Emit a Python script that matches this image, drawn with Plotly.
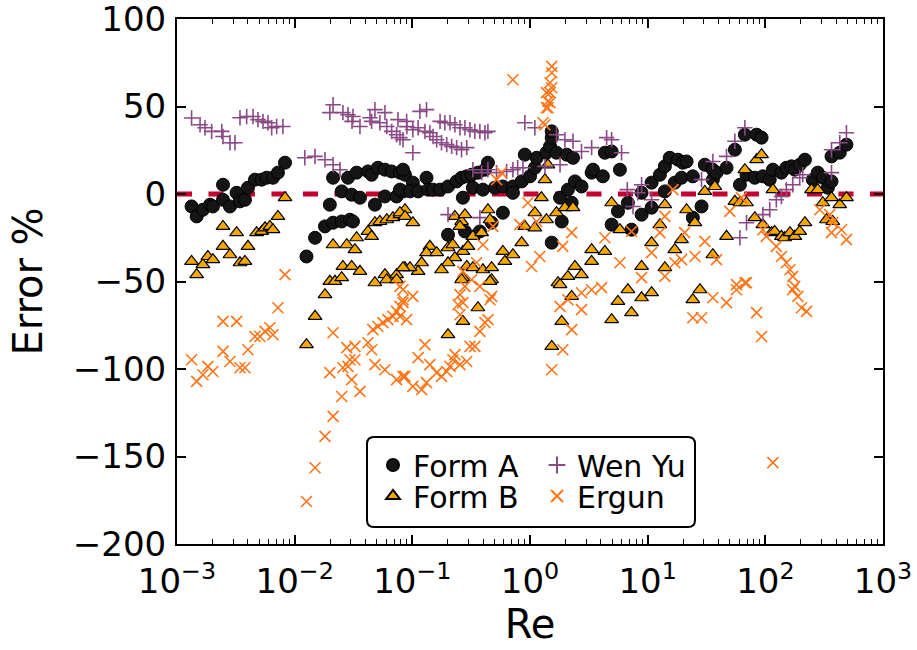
import plotly.graph_objects as go

# ---------------- data (Re, error %) ----------------
re_a = [1.33e-3, 1.47e-3, 1.66e-3, 1.91e-3, 2.02e-3, 2.46e-3, 2.82e-3, 2.46e-3, 3.21e-3, 3.43e-3, 3.78e-3, 4.01e-3, 4.60e-3, 5.24e-3, 5.78e-3, 6.54e-3, 7.21e-3, 8.28e-3,
        0.0126, 0.0149, 0.0181, 0.0212, 0.0251, 0.0295, 0.0313, 0.0199, 0.0251, 0.0305, 0.0359, 0.0481, 0.0585, 0.0735, 0.0833, 0.0212, 0.0284, 0.0336, 0.0420, 0.0451, 0.0510, 0.0585, 0.0667, 0.0785, 0.0866,
        0.0833, 0.0785, 0.101, 0.0955, 0.112, 0.132, 0.136, 0.150, 0.172, 0.201, 0.238, 0.262, 0.290, 0.319, 0.361, 0.414, 0.439, 0.269, 0.327, 0.398, 0.503, 0.588, 0.716, 0.716, 0.850, 1.00, 1.10, 1.14, 0.904, 1.38, 1.48, 1.53, 1.53, 1.68, 2.05, 2.32,
        0.201, 0.280, 0.375, 0.472, 0.588, 1.53, 1.80, 2.10, 2.41, 2.74, 2.26, 1.86, 3.34, 3.43, 4.16, 4.33, 4.94, 5.81, 4.94, 5.59, 6.79, 7.29,
        8.88, 8.88, 10.8, 10.8, 12.7, 14.0, 14.0, 15.4, 17.0, 18.1, 19.4, 19.9, 21.4, 24.2, 24.2, 28.7, 30.6, 35.8, 35.8, 38.5, 46.8, 55.1, 60.8, 67.0, 69.2, 81.4, 84.3, 92.9, 95.3, 109, 116, 137, 151, 167, 178, 196, 217, 253, 279, 308, 340, 365, 365, 429, 489]
err_a = [-7.1, -12.8, -9.0, -6.1, -7.1, -3.3, -7.1, 5.3, 0.7, -4.2, -3.3, 3.6, 8.2, 8.2, 9.3, 9.3, 12.2, 17.9,
         -35.7, -25.0, -18.5, -16.4, -15.7, -14.7, -15.7, -6.1, 1.5, -0.4, -2.1, -6.1, -1.4, -1.4, 1.5, 9.3, 9.3, 12.2, 12.9, 11.0, 15.0, 13.9, 12.9, 12.2, 11.0,
         13.9, 2.5, 6.5, 1.5, 1.5, 9.3, 2.5, 2.5, 2.5, 4.3, 7.2, 9.3, 10.1, 11.0, 12.2, 13.9, 17.9, -2.1, 3.6, 2.5, 3.6, 4.3, 4.3, 0.7, 7.2, 10.1, 15.0, 20.7, 22.5, 23.6, 27.2, 32.2, 35.8, 23.6, 22.5, 20.7,
         -23.3, -21.4, -21.4, -16.4, -10.7, -27.8, -2.1, 2.5, 7.2, 4.3, -5.0, -15.7, 12.2, 13.9, 10.1, 23.6, 24.3, 13.9, -17.5, -9.9, -5.0, -20.4,
         0.7, -11.8, 6.5, -7.8, 11.0, 15.8, 1.5, 20.7, 6.5, 19.6, 9.3, 17.9, 18.6, 10.1, -13.5, -7.1, 16.7, 13.9, 8.2, 12.2, 15.0, 25.3, 5.3, 33.9, 11.0, 9.3, 33.9, 32.2, 10.1, 8.2, 13.9, 12.2, 15.0, 15.8, 13.9, 16.7, 19.6, 8.2, 12.2, 9.3, 3.6, 7.2, 21.5, 23.6, 28.2]

re_b = [1.33e-3, 1.47e-3, 1.66e-3, 1.83e-3, 2.02e-3, 2.46e-3, 2.46e-3, 2.82e-3, 3.21e-3, 3.43e-3, 3.78e-3, 4.01e-3, 4.75e-3, 5.24e-3, 5.60e-3, 6.16e-3, 6.54e-3, 7.21e-3, 8.28e-3,
        0.0126, 0.0149, 0.0181, 0.0199, 0.0220, 0.0251, 0.0212, 0.0277, 0.0325, 0.0336, 0.0257, 0.0305, 0.0359, 0.0420, 0.0451, 0.0481, 0.0530, 0.0585, 0.0481, 0.0735, 0.0866, 0.0606, 0.0684, 0.0785, 0.0866, 0.0606, 0.0735,
        0.0785, 0.0866, 0.101, 0.230, 0.262, 0.280, 0.254, 0.327, 0.388, 0.439, 0.457, 0.141, 0.132, 0.161, 0.201, 0.221, 0.269, 0.297, 0.230, 0.201, 0.177, 0.120, 0.112, 0.0955, 0.0833, 0.290, 0.327, 0.398, 0.472, 0.588, 0.612, 0.716, 0.850, 0.904, 1.10, 1.10, 1.38, 1.25, 1.34, 1.42, 1.68, 1.98, 2.32, 2.41, 2.74, 2.10, 3.34, 4.33, 3.34, 5.81, 4.94, 1.73, 0.269, 0.472,
        0.201, 0.269, 0.361, 0.457, 0.262, 1.53, 1.86, 2.26, 1.80, 4.94, 5.59, 6.79, 7.29,
        8.88, 10.8, 12.7, 14.0, 17.0, 14.0, 19.4, 21.4, 25.2, 30.6, 37.2, 35.8, 46.8, 55.1, 60.8, 69.2, 67.0, 84.3, 92.9, 81.4, 95.3, 113, 120, 137, 146, 162, 178, 196, 217, 116, 247, 279, 308, 331, 374, 365, 429, 489, 8.88, 10.8, 24.2, 27.8]
err_b = [-38.5, -46.1, -40.4, -35.7, -37.5, -18.5, -29.9, -34.7, -22.1, -39.3, -38.5, -29.9, -22.1, -21.4, -19.3, -18.5, -20.4, -12.8, -2.1,
         -86.1, -69.9, -57.5, -49.9, -49.9, -47.8, -29.0, -29.0, -31.8, -25.0, -41.4, -41.4, -44.2, -21.4, -24.2, -16.4, -15.7, -46.1, -50.7, -46.1, -42.1, -14.7, -13.5, -11.8, -9.0, -49.0, -49.0,
         -10.7, -12.8, -16.4, -12.8, -15.7, -11.8, -18.5, -24.2, -22.1, -9.0, -14.7, -29.9, -33.5, -33.5, -30.7, -29.0, -32.8, -29.9, -36.4, -39.3, -43.3, -39.3, -44.2, -42.1, -42.1, -41.4, -42.1, -43.3, -42.1, -32.8, -38.5, -34.7, -27.8, -18.5, -19.3, -10.7, -14.7, -2.1, 8.2, 16.7, -10.7, -7.8, -7.8, -41.4, -46.1, -47.1, -31.8, -32.8, -38.5, -20.4, -5.0, -50.7, -47.8, -49.0,
         -80.4, -72.8, -65.0, -49.9, -49.0, -87.1, -72.8, -58.5, -51.8, -71.8, -61.4, -54.7, -67.8,
         -41.4, -27.8, -17.5, -6.1, -31.8, -42.1, -26.1, -9.0, -16.4, 1.5, 4.3, -34.7, -24.2, -4.2, -5.0, -5.0, 13.9, 19.6, 22.5, -13.5, -17.5, -22.1, -21.4, -24.2, -25.0, -22.1, -24.2, -21.4, -16.4, 2.5, 2.5, 2.5, -5.0, -14.7, -15.7, -2.1, -6.1, -2.1, -59.3, -56.4, -60.4, -54.7]

re_w = [1.33e-3, 1.57e-3, 1.73e-3, 1.97e-3, 2.40e-3, 2.46e-3, 2.82e-3, 3.11e-3, 3.43e-3, 3.91e-3, 4.43e-3, 4.88e-3, 5.38e-3, 5.93e-3, 6.38e-3, 7.03e-3, 7.94e-3,
        0.0122, 0.0149, 0.0181, 0.0212, 0.0243, 0.0212, 0.0199, 0.0257, 0.0284, 0.0313, 0.0307, 0.0359, 0.0437, 0.0481, 0.0585, 0.0451, 0.0530, 0.0606, 0.0667, 0.0735, 0.0785, 0.0833, 0.0755, 0.0894,
        0.0899, 0.101, 0.116, 0.132, 0.112, 0.128, 0.141, 0.150, 0.172, 0.189, 0.209, 0.230, 0.254, 0.280, 0.309, 0.340, 0.375, 0.414, 0.439, 0.161, 0.177, 0.196, 0.216, 0.238, 0.262, 0.290, 0.101, 0.327, 0.388, 0.439, 0.520, 0.633, 0.716, 0.786, 0.871, 0.904, 1.10, 1.68, 1.98, 2.32, 2.74, 3.34, 4.48, 4.94, 6.00, 1.80, 1.34, 0.201, 0.375, 6.71, 7.50, 8.25,
        8.88, 10.8, 55.1, 46.8, 35.8, 28.7, 67.0, 60.8, 69.2, 95.3, 109, 124, 137, 151, 171, 196, 208, 365, 365, 429, 489]
err_w = [43.4, 39.6, 37.9, 35.8, 35.8, 32.9, 29.3, 29.3, 43.6, 44.3, 44.3, 42.5, 41.5, 40.7, 37.9, 38.6, 38.6,
         20.7, 21.5, 19.6, 16.7, 13.9, 51.0, 46.5, 46.5, 45.3, 44.3, 41.5, 38.6, 43.6, 48.2, 46.5, 41.5, 40.7, 38.6, 35.8, 33.9, 32.2, 31.0, 42.5, 41.5,
         38.5, 36.7, 47.2, 48.2, 37.9, 35.8, 35.0, 32.9, 41.5, 40.7, 40.7, 39.6, 37.9, 37.9, 36.7, 35.8, 35.8, 35.0, 35.8, 31.0, 29.3, 28.2, 27.2, 26.5, 25.3, 26.5, 23.6, 13.9, 12.2, 13.9, 12.2, 12.9, 13.9, 15.0, 15.0, 40.7, 37.9, 33.9, 31.0, 30.1, 24.3, 26.5, 32.2, 31.0, 23.6, 16.7, 15.8, -11.8, -13.5, 2.5, -7.1, 0.7,
         5.3, -3.3, 30.1, 21.5, 18.6, 8.2, 37.9, -25.0, -16.4, -11.8, -9.0, -3.3, -1.4, 2.5, 5.3, 9.3, 11.0, 25.3, 12.2, 29.3, 35.0]

re_e = [1.33e-3, 1.47e-3, 1.66e-3, 1.83e-3, 2.02e-3, 2.46e-3, 3.21e-3, 2.46e-3, 2.82e-3, 3.43e-3, 3.78e-3, 4.01e-3, 4.60e-3, 5.07e-3, 5.60e-3, 6.16e-3, 6.54e-3, 7.21e-3, 8.28e-3,
        0.0126, 0.0149, 0.0181, 0.0212, 0.0251, 0.0199, 0.0305, 0.0359, 0.0257, 0.0284, 0.0295, 0.0325, 0.0277, 0.0325, 0.0212, 0.0420, 0.0451, 0.0481, 0.0585, 0.0735, 0.0833, 0.0462, 0.0510, 0.0562, 0.0620, 0.0684, 0.0735, 0.0785, 0.0833, 0.0894, 0.0833,
        0.0785, 0.0833, 0.101, 0.0785, 0.0866, 0.101, 0.120, 0.132, 0.128, 0.112, 0.141, 0.161, 0.177, 0.196, 0.209, 0.221, 0.230, 0.254, 0.290, 0.309, 0.340, 0.375, 0.414, 0.439, 0.457, 0.254, 0.244, 0.269, 0.254, 0.280, 0.375, 0.472, 1.53, 1.90, 2.26, 1.80, 2.10, 2.74, 3.34, 4.06, 2.74,
        1.38, 1.48, 1.38, 1.29, 0.574, 0.520, 0.960, 0.820, 1.14, 2.26, 1.90, 1.21, 1.03, 4.33, 5.81, 0.484, 0.398, 0.352, 0.319, 0.269, 0.716, 1.53, 1.53, 1.48, 1.53, 1.48, 1.42, 1.42, 1.34,
        7.29, 8.88, 10.8, 12.7, 14.0, 16.4, 14.0, 17.0, 19.4, 20.6, 25.2, 30.6, 38.5, 56.9, 67.0, 62.6, 49.9, 95.3, 102, 124, 137, 151, 162, 171, 178, 290, 353, 374, 365, 444, 489, 24.2, 28.7, 35.8, 46.8, 56.9, 69.2, 84.3, 92.9, 171, 189, 203, 224, 116]
err_e = [-94.7, -107.1, -103.3, -98.5, -101.4, -72.8, -72.8, -89.9, -95.7, -99.3, -99.3, -89.0, -81.4, -81.4, -78.5, -76.4, -80.4, -65.0, -46.1,
         -175.7, -156.4, -138.5, -127.1, -115.7, -102.1, -106.1, -112.8, -99.3, -98.5, -94.7, -94.7, -87.8, -87.1, -79.3, -85.0, -89.0, -97.5, -100.4, -106.1, -104.2, -77.5, -75.7, -73.5, -71.8, -69.9, -67.1, -64.2, -62.1, -71.8, -54.7,
         -52.8, -60.4, -58.5, -69.9, -104.2, -109.9, -111.8, -107.8, -86.1, -93.5, -97.5, -102.1, -104.2, -101.4, -98.5, -94.7, -91.8, -97.5, -95.7, -87.1, -87.1, -78.5, -73.5, -71.8, -60.4, -69.0, -63.3, -62.1, -57.5, -52.8, -52.8, -58.5, -100.4, -89.0, -77.5, -64.2, -60.4, -66.1, -54.7, -53.5, -56.4,
         57.9, 52.2, 49.3, 40.7, 12.2, 8.2, -5.0, -17.5, -15.7, -22.1, -29.9, -35.7, -41.4, -25.0, -39.3, -18.5, -29.0, -39.3, -49.0, -44.2, 65.3, 72.9, 69.3, 63.6, 60.7, 57.9, 52.9, 49.3, 39.6,
         -21.4, -47.8, -33.5, -22.1, -12.8, 2.5, -47.1, -39.3, -37.5, -22.1, -35.7, -27.1, -37.5, -51.8, -50.7, -2.1, -9.9, -20.4, -24.2, -29.9, -35.7, -39.3, -43.3, -47.1, -52.8, -9.0, -11.8, -16.4, -22.1, -20.4, -26.1, -70.7, -70.7, -59.3, -62.1, -54.7, -50.7, -67.8, -81.4, -54.7, -58.5, -65.0, -67.1, -153.5]

ref_x = [1e-3, 1e3]
ref_y = [0, 0]

x_tickvals = [1e-3, 1e-2, 1e-1, 1e0, 1e1, 1e2, 1e3]
x_ticktext = ["10<sup>\u22123</sup>", "10<sup>\u22122</sup>", "10<sup>\u22121</sup>", "10<sup>0</sup>",
              "10<sup>1</sup>", "10<sup>2</sup>", "10<sup>3</sup>"]
x_minor = [m * 10.0 ** e for e in range(-3, 3) for m in range(2, 10)]
y_tickvals = [-200, -150, -100, -50, 0, 50, 100]
y_ticktext = ["\u2212200", "\u2212150", "\u2212100", "\u221250", "0", "50", "100"]

for a, b in [(re_a, err_a), (re_b, err_b), (re_w, err_w), (re_e, err_e)]:
    assert len(a) == len(b), (len(a), len(b))

FONT = "DejaVu Sans"

fig = go.Figure()
fig.add_trace(go.Scatter(x=ref_x, y=ref_y, mode="lines", showlegend=False, hoverinfo="skip",
                         line=dict(color="#C4002F", width=5, dash="15px,16.5px")))
fig.add_trace(go.Scatter(x=re_a, y=err_a, mode="markers", name="Form A", legend="legend",
                         marker=dict(symbol="circle", size=13, color="#151515",
                                     line=dict(color="#000000", width=1))))
fig.add_trace(go.Scatter(x=re_b, y=err_b, mode="markers", name="Form B", legend="legend2",
                         marker=dict(symbol="triangle-up", size=12, color="#F5A800",
                                     line=dict(color="#000000", width=1.2))))
fig.add_trace(go.Scatter(x=re_w, y=err_w, mode="markers", name="Wen Yu", legend="legend3",
                         marker=dict(symbol="cross-thin", size=11, color="#8A4A86",
                                     line=dict(color="#8A4A86", width=1.6))))
fig.add_trace(go.Scatter(x=re_e, y=err_e, mode="markers", name="Ergun", legend="legend4",
                         marker=dict(symbol="x-thin", size=11, color="#FF7518",
                                     line=dict(color="#FF7518", width=1.6))))

axis_common = dict(showline=True, linecolor="black", linewidth=2, mirror="allticks",
                   ticks="inside", ticklen=9, tickwidth=1.5, tickcolor="black",
                   showgrid=False, zeroline=False, ticklabeloverflow="allow", automargin=False,
                   tickfont=dict(family=FONT, size=34, color="black"))

fig.update_xaxes(type="log", range=[-3, 3], tickmode="array", tickvals=x_tickvals, ticktext=x_ticktext,
                 minor=dict(ticks="inside", ticklen=5, tickwidth=1, tickcolor="black",
                            tickmode="array", tickvals=x_minor, showgrid=False),
                 title=dict(text="Re", font=dict(family=FONT, size=40, color="black"), standoff=4),
                 ticklabelstandoff=6, **axis_common)
fig.update_yaxes(range=[-200, 100], tickmode="array", tickvals=y_tickvals, ticktext=y_ticktext,
                 title=dict(text="Error %", font=dict(family=FONT, size=40, color="black"), standoff=18),
                 ticklabelstandoff=2, **axis_common)

# rounded legend frame (paper coordinates)
x0, x1 = (367 - 177) / 706, (695 - 177) / 706
y0, y1 = (544 - 437) / 525, (544 - 527) / 525
rx, ry = 7 / 706, 7 / 525
path = (f"M {x0+rx},{y0} L {x1-rx},{y0} Q {x1},{y0} {x1},{y0-ry} L {x1},{y1+ry} "
        f"Q {x1},{y1} {x1-rx},{y1} L {x0+rx},{y1} Q {x0},{y1} {x0},{y1+ry} "
        f"L {x0},{y0-ry} Q {x0},{y0} {x0+rx},{y0} Z")
fig.add_shape(type="path", path=path, xref="paper", yref="paper", layer="above",
              fillcolor="white", line=dict(color="black", width=2))

leg_common = dict(font=dict(family=FONT, size=30, color="black"), bgcolor="rgba(0,0,0,0)",
                  borderwidth=0, yanchor="middle", xanchor="left", itemsizing="constant")
col1, col2 = (373 - 177) / 706, (537 - 177) / 706
row1, row2 = (544 - 465) / 525, (544 - 496) / 525
fig.update_layout(
    width=917, height=650,
    margin=dict(l=177, r=34, t=19, b=106, autoexpand=False),
    paper_bgcolor="white", plot_bgcolor="white",
    font=dict(family=FONT, color="black"),
    legend=dict(x=col1, y=row1, **leg_common),
    legend2=dict(x=col1, y=row2, **leg_common),
    legend3=dict(x=col2, y=row1, **leg_common),
    legend4=dict(x=col2, y=row2, **leg_common),
)

fig.write_html("out.html")
